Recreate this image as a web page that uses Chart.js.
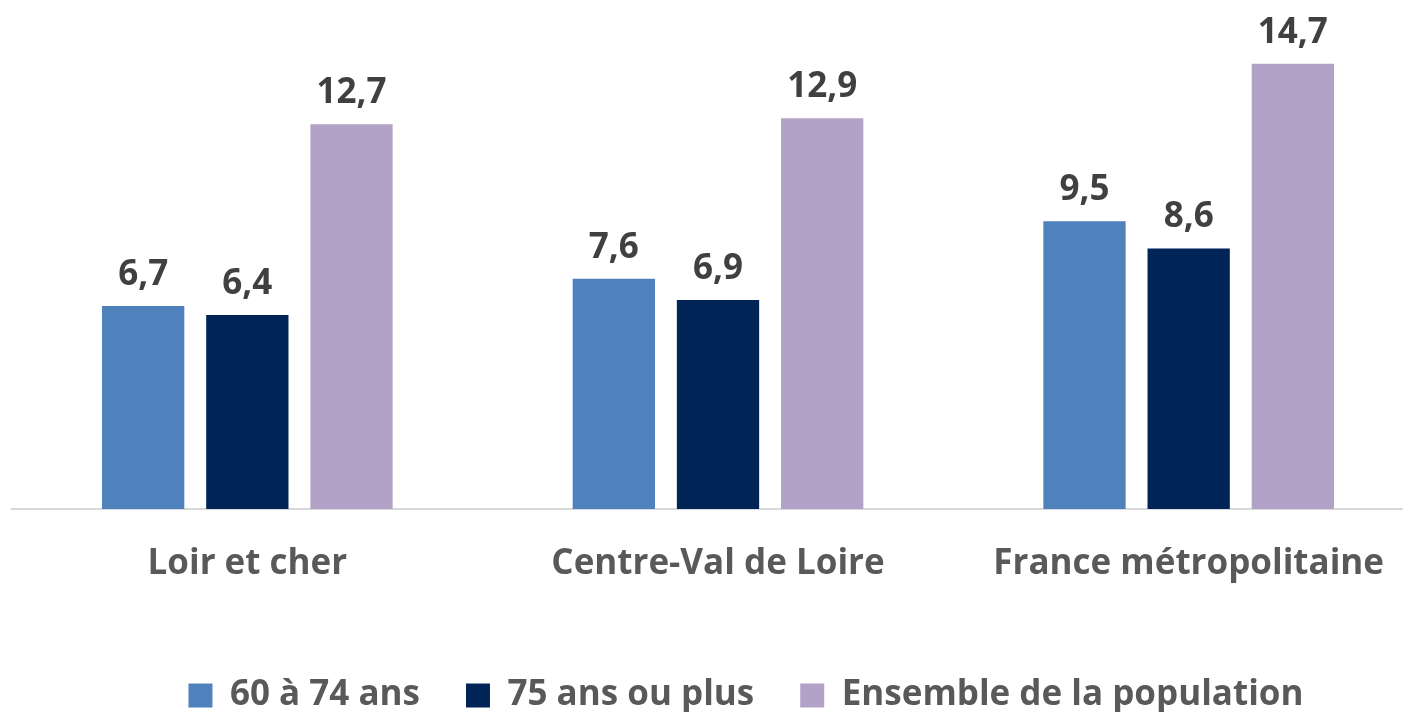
<!DOCTYPE html>
<html>
<head>
<meta charset="utf-8">
<script src="https://cdn.jsdelivr.net/npm/chart.js@4.4.0/dist/chart.umd.min.js"></script>
<style>
  html, body { margin: 0; padding: 0; background: #fff; overflow: hidden; }
  #wrap { position: relative; width: 1480px; height: 723px; }
</style>
</head>
<body>
<div id="wrap"><canvas id="canvas"></canvas></div>
<script>
// données
var categories = ["Loir et cher", "Centre-Val de Loire", "France métropolitaine"];
var series60a74 = [6.7, 7.6, 9.5];
var series75plus = [6.4, 6.9, 8.6];
var seriesEnsemble = [12.7, 12.9, 14.7];
var seriesNames = ["60 à 74 ans", "75 ans ou plus", "Ensemble de la population"];

var FONT = "'Open Sans', Lato, sans-serif";

// étiquettes de valeurs au-dessus des barres
var valueLabels = {
  id: 'valueLabels',
  afterDatasetsDraw: function(chart) {
    var ctx = chart.ctx;
    ctx.save();
    ctx.font = "bold 35px " + FONT;
    ctx.fillStyle = "#404040";
    ctx.textAlign = "center";
    ctx.textBaseline = "alphabetic";
    chart.data.datasets.forEach(function(ds, i) {
      chart.getDatasetMeta(i).data.forEach(function(bar, j) {
        ctx.fillText(ds.data[j].toFixed(1).replace(".", ","), bar.x, bar.y - 21);
      });
    });
    ctx.restore();
  }
};

var ctx = document.getElementById("canvas").getContext("2d");
var myChart = new Chart(ctx, {
  type: 'bar',
  data: {
    labels: categories,
    datasets: [
      { label: seriesNames[0], data: series60a74, backgroundColor: "#4f81bd" },
      { label: seriesNames[1], data: series75plus, backgroundColor: "#002456" },
      { label: seriesNames[2], data: seriesEnsemble, backgroundColor: "#b3a2c7" }
    ]
  },
  options: {
    responsive: true,
    maintainAspectRatio: false,
    animation: false,
    categoryPercentage: 0.664,
    barPercentage: 0.79,
    layout: { padding: { left: 12, right: 0, top: 0, bottom: 0 } },
    plugins: {
      tooltip: { enabled: false },
      legend: {
        position: 'bottom',
        labels: {
          boxWidth: 24,
          boxHeight: 24,
          padding: 46,
          color: "#595959",
          font: { family: FONT, size: 35, weight: 'bold' }
        }
      }
    },
    scales: {
      x: {
        grid: { display: false, drawTicks: false },
        border: { display: true, color: "#d9d9d9", width: 2 },
        ticks: {
          padding: 34,
          color: "#595959",
          font: { family: FONT, size: 35, weight: 'bold' }
        },
        afterFit: function(scale) { scale.height = 123; }
      },
      y: {
        position: 'right',
        min: 0,
        max: 16.8,
        grid: { display: false, drawTicks: false },
        border: { display: false },
        ticks: { display: false },
        afterFit: function(scale) { scale.width = 56; }
      }
    }
  },
  plugins: [valueLabels]
});
</script>
</body>
</html>
